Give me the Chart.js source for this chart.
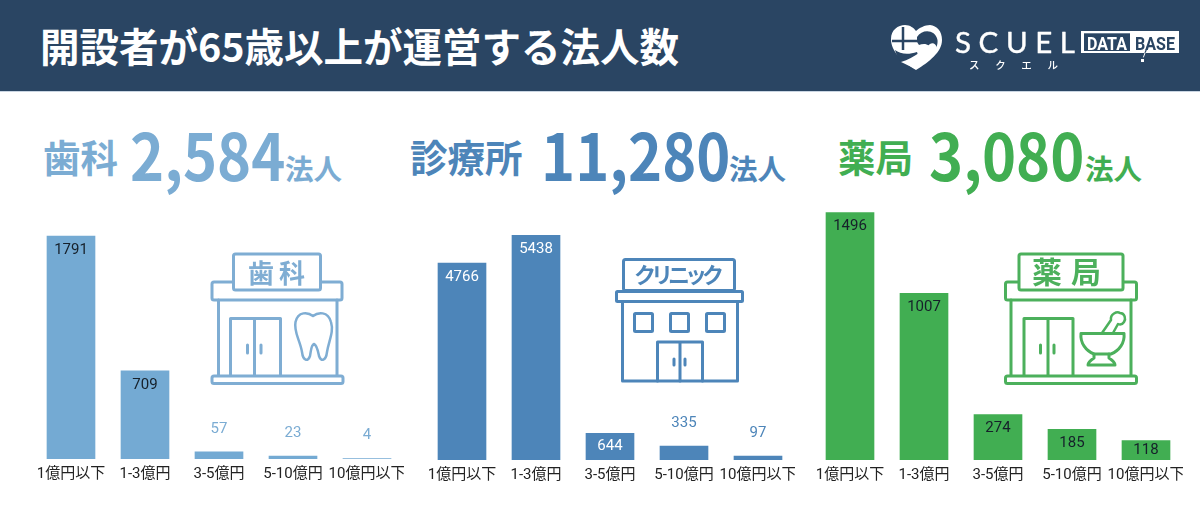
<!DOCTYPE html>
<html lang="ja"><head><meta charset="utf-8">
<script src="https://cdn.jsdelivr.net/npm/chart.js@4"></script>
<style>
html,body{margin:0;padding:0;background:#fff;width:1200px;height:524px;overflow:hidden;font-family:"Noto Sans CJK JP",sans-serif}
#hdr{position:absolute;left:0;top:0;width:1200px;height:92px;background:#2a4563;border-bottom:1px solid #c9d5e2;box-sizing:border-box}
#title{position:absolute;left:40px;top:16px;font-size:39.5px;line-height:58px;font-weight:700;color:#fff;white-space:nowrap}
.h{position:absolute;white-space:nowrap;font-weight:700;line-height:1}
.n{transform:scaleX(.89);transform-origin:left top}
canvas{position:absolute}
svg{position:absolute;left:0;top:0}
</style></head><body>
<div id="hdr"><div id="title">開設者が65歳以上が運営する法人数</div></div>
<div id="heads"></div>
<canvas id="c0" style="left:34px;top:199px;width:370px;height:290px"></canvas>
<canvas id="c1" style="left:425px;top:200px;width:370px;height:290px"></canvas>
<canvas id="c2" style="left:813px;top:200px;width:370px;height:290px"></canvas>
<svg width="1200" height="524" viewBox="0 0 1200 524" fill="none" stroke-linejoin="round" stroke-linecap="round">
  <!-- logo -->
  <g>
    <path d="M916 70C903 62 891 52 891 39C891 30 898 25 905 25C910 25 914 28 916 31C919 28 925 25 930 25C937 26 942 31 942 40C942 52 929 62 916 70Z" fill="#fff"/>
    <path d="M917 37C922 29 935 29 937.500 40C938 45 936 49 933 52L929 46C926 43 922 44 919 45L917 42Z" fill="#2a4563"/>
    <path d="M895 50C900 54 908 55 917 52L918 55C910 60 905 62 901 62C898 58 896 54 895 50Z" fill="#2a4563"/>
    <path d="M903 27V50M892 41H917" stroke="#2a4563" stroke-width="2.500" stroke-linecap="butt"/>
    <path d="M901 62C908 60 914 56 919 53L930 44C933 42 936 44 937 48C936 52 932 56 928 60L916 69C910 66 905 64 901 62Z" fill="#fff"/>
    <text x="955" y="53" font-family="Lato" font-size="29.500" fill="#fff" stroke="#fff" stroke-width=".4" textLength="120">SCUEL</text>
    <text x="969" y="68.500" font-family="Noto Sans CJK JP" font-size="10.500" font-weight="500" fill="#fff" stroke="none" textLength="89">スクエル</text>
    <rect x="1081" y="31" width="98" height="22" fill="#fff" stroke="none"/>
    <rect x="1084" y="33.300" width="46" height="17.700" fill="#2a4563" stroke="none"/>
    <text x="1087" y="49.500" font-family="Roboto" font-weight="700" font-size="19" fill="#fff" stroke="none" textLength="40" lengthAdjust="spacingAndGlyphs">DATA</text>
    <text x="1135" y="49.500" font-family="Roboto" font-weight="700" font-size="19" fill="#2a4563" stroke="none" textLength="40" lengthAdjust="spacingAndGlyphs">BASE</text>
    <path d="M1148 45L1145 53" stroke="#2a4563" stroke-width="1.200"/>
    <path d="M1145 53L1143.500 57" stroke="#fff" stroke-width="1"/>
    <rect x="1141" y="59" width="3" height="3" fill="#fff" stroke="none"/>
  </g>
  <!-- dental -->
  <g stroke="#7fadd3" stroke-width="3">
    <rect x="212" y="282" width="130" height="18" rx="2"/>
    <rect x="233.500" y="254" width="87" height="36" rx="2" fill="#fff"/>
    <path d="M218.500 300V375M337 300V375"/>
    <rect x="212" y="376" width="131" height="7.500" rx="2"/>
    <path d="M230.500 375V318.500H280.500V375M254.500 318.500V375"/>
    <path d="M247.500 345V353M261 345V353"/>
    <path d="M313 316C308 312 298 311 295.500 322C293.500 332 300 340 302 352C303 361 308 362 310 356C311 351 311 345 314 344C317 345 318 351 319 356C321 362 326 361 327 352C329 340 334 332 331 322C328 311 318 312 313 316Z" stroke-width="2.500"/>
    <text x="279" y="283" font-size="26" font-weight="700" fill="#7fadd3" stroke="none" text-anchor="middle" font-family="Noto Sans CJK JP" letter-spacing="5">歯科</text>
  </g>
  <!-- clinic -->
  <g stroke="#4d85b9" stroke-width="3">
    <rect x="623.500" y="259.500" width="111" height="31" rx="2"/>
    <rect x="616.500" y="291.500" width="126" height="10" rx="1"/>
    <path d="M622.500 302V381H737.500V302"/>
    <rect x="634.500" y="313.500" width="18" height="18" rx="1"/>
    <rect x="670.500" y="313.500" width="18" height="18" rx="1"/>
    <rect x="706.500" y="313.500" width="18" height="18" rx="1"/>
    <path d="M657.500 381V342H702.500V381M680 342V381"/>
    <path d="M674 359V365M685 359V365"/>
    <text x="679" y="283" font-size="22" font-weight="700" fill="#4d85b9" stroke="none" text-anchor="middle" font-family="Noto Sans CJK JP" textLength="90">クリニック</text>
  </g>
  <!-- pharmacy -->
  <g stroke="#4cb05c" stroke-width="3">
    <rect x="1005.500" y="282" width="131" height="18" rx="2"/>
    <rect x="1019" y="254" width="104" height="36" rx="2" fill="#fff"/>
    <path d="M1011 300V375M1131 300V375"/>
    <rect x="1005.500" y="376" width="131" height="7.500" rx="2"/>
    <path d="M1024 375V318.500H1073V375M1048 318.500V375"/>
    <path d="M1040.500 345V353M1054 345V353"/>
    <path d="M1102 333L1111 320C1110 314 1117 311 1120 313C1125 313 1126 319 1124 322C1122 325 1120 325 1118 324L1113 333" stroke-width="2.500"/>
    <path d="M1081 333.500H1124C1125 343 1119 351 1111 354H1094C1086 351 1080 343 1081 333.500Z"/>
    <path d="M1094 354V358C1091 360 1088 362 1088 365H1115C1115 362 1112 360 1109 358V354"/>
    <text x="1071" y="283" font-size="30" font-weight="700" fill="#4cb05c" stroke="none" text-anchor="middle" font-family="Noto Sans CJK JP" letter-spacing="9">薬局</text>
  </g>
</svg>
<script>
const categories = ["1億円以下","1-3億円","3-5億円","5-10億円","10億円以下"];
const dentalValues = [1791,709,57,23,4];
const clinicValues = [4766,5438,644,335,97];
const pharmacyValues = [1496,1007,274,185,118];
const segmentNames = ["歯科","診療所","薬局"];
const segmentTotals = ["2,584","11,280","3,080"];
const unitLabel = "法人";
const segmentColors = ["#74aad3","#4d85b9","#41ae52"];
const headingColors = ["#7bacd3","#4d85b9","#41ae52"];
const insideLabelColors = ["#16202a","#ffffff","#16202a"];
const axisMaxima = [2089,6292,1572];
const headingLeft = [43,410,838];
const numberLeft = [130,541,929];
const unitLeft = [285,729,1085];

const heads = document.getElementById('heads');
segmentNames.forEach((n,i)=>{
  const col = headingColors[i];
  const nameEl = document.createElement('div'); nameEl.className='h';
  nameEl.textContent = n;
  nameEl.style.cssText = `left:${headingLeft[i]}px;top:137px;font-size:37.5px;color:${col}`;
  const numEl = document.createElement('div'); numEl.className='h n';
  numEl.style.cssText = `left:${numberLeft[i]}px;top:121px;font-size:65px;color:${col}`;
  numEl.textContent = segmentTotals[i];
  const unitEl = document.createElement('div'); unitEl.className='h';
  unitEl.style.cssText = `left:${unitLeft[i]}px;top:154px;font-size:28.5px;color:${col}`;
  unitEl.textContent = unitLabel;
  heads.append(nameEl,numEl,unitEl);
});

const labelPlugin = {
  id:'valueLabels',
  afterDatasetsDraw(chart){
    const {ctx} = chart;
    const i = chart.options.plugins.valueLabels.index;
    const meta = chart.getDatasetMeta(0);
    const vals = chart.data.datasets[0].data;
    ctx.save();
    ctx.font = '15px Roboto, sans-serif';
    ctx.textAlign='center'; ctx.textBaseline='middle';
    meta.data.forEach((b,k)=>{
      const h = b.base - b.y;
      if(h >= 18){
        ctx.fillStyle = insideLabelColors[i];
        ctx.fillText(vals[k], b.x, b.y + Math.min(14, h/2));
      } else {
        ctx.fillStyle = headingColors[i];
        ctx.fillText(vals[k], b.x, b.y - 23);
      }
    });
    ctx.restore();
  }
};

[dentalValues,clinicValues,pharmacyValues].forEach((vals,i)=>{
  new Chart(document.getElementById('c'+i),{
    type:'bar',
    data:{labels:categories,datasets:[{data:vals,backgroundColor:segmentColors[i],barThickness:48,borderWidth:0}]},
    options:{
      responsive:false,animation:false,devicePixelRatio:1,
      layout:{padding:0},
      plugins:{legend:{display:false},tooltip:{enabled:false},title:{display:false},valueLabels:{index:i}},
      scales:{
        x:{grid:{display:false},border:{display:false},
           ticks:{autoSkip:false,maxRotation:0,minRotation:0,padding:-2,color:'#222',font:{size:15,family:'Roboto, "Noto Sans CJK JP", sans-serif'}},
           afterFit(s){s.height=30;s.paddingLeft=0;s.paddingRight=0;}},
        y:{display:false,min:0,max:axisMaxima[i]}
      }
    },
    plugins:[labelPlugin]
  });
});
</script>
</body></html>
